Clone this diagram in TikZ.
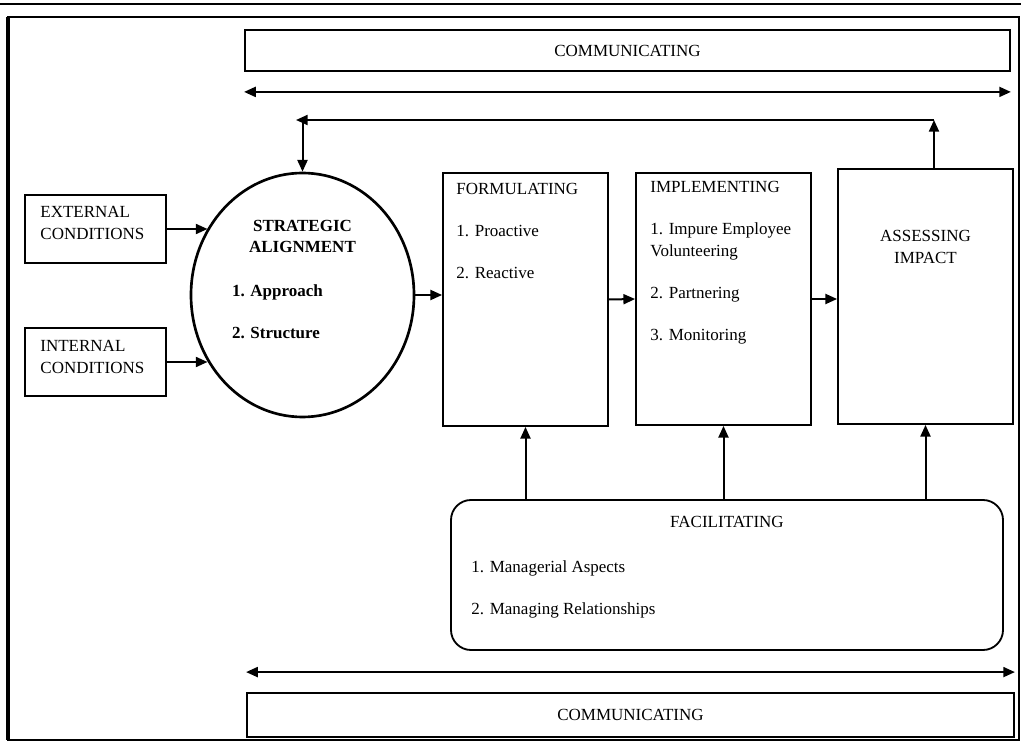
\documentclass[tikz,border=0pt]{standalone}
\usepackage{fontspec}
\setmainfont{Liberation Serif}
\usetikzlibrary{arrows.meta,positioning,shapes.geometric}

\begin{document}
\begin{tikzpicture}[x=0.6pt, y=-0.6pt, every node/.style={font=\fontsize{10.2pt}{12.9pt}\selectfont}, box/.style={draw,line width=1.1pt,inner sep=0pt}, txt/.style={inner sep=0pt,align=left}, arr/.style={-{Triangle[length=7pt,width=6pt]},line width=1.2pt}, dbl/.style={{Triangle[length=7pt,width=6pt]}-{Triangle[length=7pt,width=6pt]},line width=1.2pt}]
\useasboundingbox (0,0) rectangle (1021,741);
% frame
\draw[line width=1pt] (0,4) -- (1021,4);
\draw[line width=1.3pt] (8,17) rectangle (1019,740);
\draw[line width=2.4pt] (8,17) -- (8,740);
% communicating bands
\node[box,minimum width=459pt,minimum height=24.6pt] (comm1) at (627.5,50.5) {COMMUNICATING};
\node[box,minimum width=460.2pt,minimum height=26.4pt] (comm2) at (630.5,715) {COMMUNICATING};
\draw[dbl] ([yshift=-12pt]comm1.south west) -- ([yshift=-12pt]comm1.south east);
\draw[dbl] ([yshift=12pt]comm2.north west) -- ([yshift=12pt]comm2.north east);
% conditions
\node[box,minimum width=84.6pt,minimum height=40.8pt] (ext) at (95.5,229) {};
\node[txt,below right=7.2pt and 9.6pt of ext.north west] (ext-t) {EXTERNAL\\CONDITIONS};
\node[box,minimum width=84.6pt,minimum height=40.8pt] (int) at (95.5,362) {};
\node[txt,below right=7.8pt and 9.6pt of int.north west] (int-t) {INTERNAL\\CONDITIONS};
% strategic alignment
\node[draw,ellipse,line width=1.6pt,inner sep=0pt,minimum width=133.8pt,minimum height=146.4pt] (sa) at (302.5,295) {};
\node[txt,align=center,font=\fontsize{10.2pt}{12.9pt}\selectfont\bfseries,below=28.8pt of sa.north] (sa-t) {STRATEGIC\\ALIGNMENT};
\node[txt,font=\fontsize{10.2pt}{12.9pt}\selectfont\bfseries,anchor=north west] (sa-i) at ([xshift=25.2pt,yshift=6.6pt]sa.west) {1. Approach\\[12.3pt]2. Structure};
% process boxes
\node[box,minimum width=99pt,minimum height=151.8pt] (form) at (525.5,299.5) {};
\node[txt,below right=6.6pt and 8.4pt of form.north west] (form-t) {FORMULATING\\[12.3pt]1. Proactive\\[12.3pt]2. Reactive};
\node[box,minimum width=105pt,minimum height=151.2pt] (impl) at (723.5,299) {};
\node[txt,below right=5.4pt and 9pt of impl.north west] (impl-t) {IMPLEMENTING\\[12.3pt]1. Impure Employee\\Volunteering\\[12.3pt]2. Partnering\\[12.3pt]3. Monitoring};
\node[box,minimum width=105pt,minimum height=153pt] (assess) at (925.5,296.5) {};
\node[txt,align=center,below=37.2pt of assess.north] (assess-t) {ASSESSING\\IMPACT};
% facilitating
\node[box,rounded corners=12pt,minimum width=331.2pt,minimum height=90pt] (fac) at (727,575) {};
\node[txt,align=center,below=10.2pt of fac.north] (fac-t) {FACILITATING};
\node[txt,below right=36.6pt and 12.6pt of fac.north west] (fac-i) {1. Managerial Aspects\\[12.3pt]2. Managing Relationships};
% flow
\draw[arr] (ext.east) -- (ext.east -| sa.145);
\draw[arr] (int.east) -- (int.east -| sa.215);
\draw[arr] (sa.east) -- (sa.east -| form.west);
\draw[arr] (form.east) -- (impl.west);
\draw[arr] (impl.east) -- (impl.east -| assess.west);
\draw[arr] (fac.north -| form.south) -- (form.south);
\draw[arr] (fac.north -| impl.south) -- (impl.south);
\draw[arr] (fac.north -| assess.south) -- (assess.south);
% feedback loop
\coordinate (fbr) at (934,120);
\coordinate (fbl) at (302.5,120);
\coordinate (fbtip) at (296,120);
\draw[arr] (assess.north -| fbr) -- (fbr);
\draw[arr] (fbr) -- (fbtip);
\draw[arr] (fbl) -- (sa.north);
\end{tikzpicture}
\end{document}
